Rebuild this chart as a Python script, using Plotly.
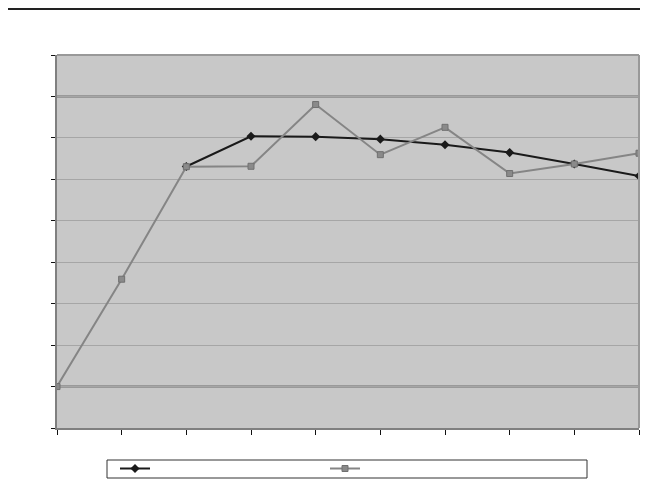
import plotly.graph_objects as go

categories = [str(i) for i in range(1, 11)]
series_a = [None, None, 106.2, 120.8, 120.6, 119.4, 116.7, 112.9, 107.4, 101.6]
series_b = [0.0, 51.8, 106.1, 106.3, 136.1, 111.9, 125.1, 102.8, 107.4, 112.6]
y_ticks = [-20, 0, 20, 40, 60, 80, 100, 120, 140, 160]
black_lines = [0, 140]

fig = go.Figure()
fig.add_trace(go.Scatter(
    x=categories, y=series_a, name=" ", mode="lines+markers",
    line=dict(color="#1a1a1a", width=2),
    marker=dict(symbol="diamond", size=7, color="#1a1a1a"),
))
fig.add_trace(go.Scatter(
    x=categories, y=series_b, name=" ", mode="lines+markers",
    line=dict(color="#858585", width=2),
    marker=dict(symbol="square", size=6, color="#8a8a8a", line=dict(color="#707070", width=1)),
))

# page is offset by 8px body margin; figure occupies 632x472
W, H = 632, 472
L, R, T, B = 49, 1, 47, 52
pw, ph = W - L - R, H - T - B

shapes = []
for v in black_lines:
    shapes.append(dict(type="line", xref="paper", yref="y", x0=0, x1=1, y0=v, y1=v,
                       line=dict(color="#111111", width=1.5), layer="between"))
# top border line of the page
shapes.append(dict(type="line", xref="paper", yref="paper",
                   x0=-L / pw, x1=1 + R / pw, y0=1 + (T - 1) / ph, y1=1 + (T - 1) / ph,
                   line=dict(color="#222222", width=2)))
# legend box
lx0, lx1, ly0, ly1 = 99, 579, 452, 470
shapes.append(dict(type="rect", xref="paper", yref="paper",
                   x0=(lx0 - L) / pw, x1=(lx1 - L) / pw,
                   y0=(H - B - ly1) / ph, y1=(H - B - ly0) / ph,
                   line=dict(color="#333333", width=1), fillcolor="white", layer="below"))
# top and right plot borders
shapes.append(dict(type="line", xref="paper", yref="paper", x0=0, x1=1, y0=1, y1=1,
                   line=dict(color="#999999", width=2)))
shapes.append(dict(type="line", xref="paper", yref="paper", x0=1, x1=1, y0=0, y1=1,
                   line=dict(color="#999999", width=2)))

fig.update_layout(
    width=W, height=H,
    margin=dict(l=L, r=R, t=T, b=B, autoexpand=False),
    paper_bgcolor="white", plot_bgcolor="#c8c8c8",
    showlegend=True,
    legend=dict(orientation="h", x=(lx0 + 8 - L) / pw, xanchor="left",
                y=(H - B - (ly0 - 6)) / ph, yanchor="top",
                bgcolor="rgba(0,0,0,0)", borderwidth=0,
                entrywidth=165, entrywidthmode="pixels",
                itemwidth=30, font=dict(size=9), tracegroupgap=0),
    shapes=shapes,
    xaxis=dict(type="category", range=[0, 9], showticklabels=False, showgrid=False,
               ticks="outside", ticklen=5, tickcolor="#111111", tickson="labels",
               showline=True, linecolor="#808080", linewidth=2, mirror=False, zeroline=False),
    yaxis=dict(range=[-20, 160], tickvals=y_ticks, showticklabels=False,
               showgrid=True, gridcolor="#a6a6a6", gridwidth=1,
               ticks="outside", ticklen=4, tickcolor="#111111",
               showline=True, linecolor="#808080", linewidth=2, zeroline=False),
)

fig.write_html("out.html")
